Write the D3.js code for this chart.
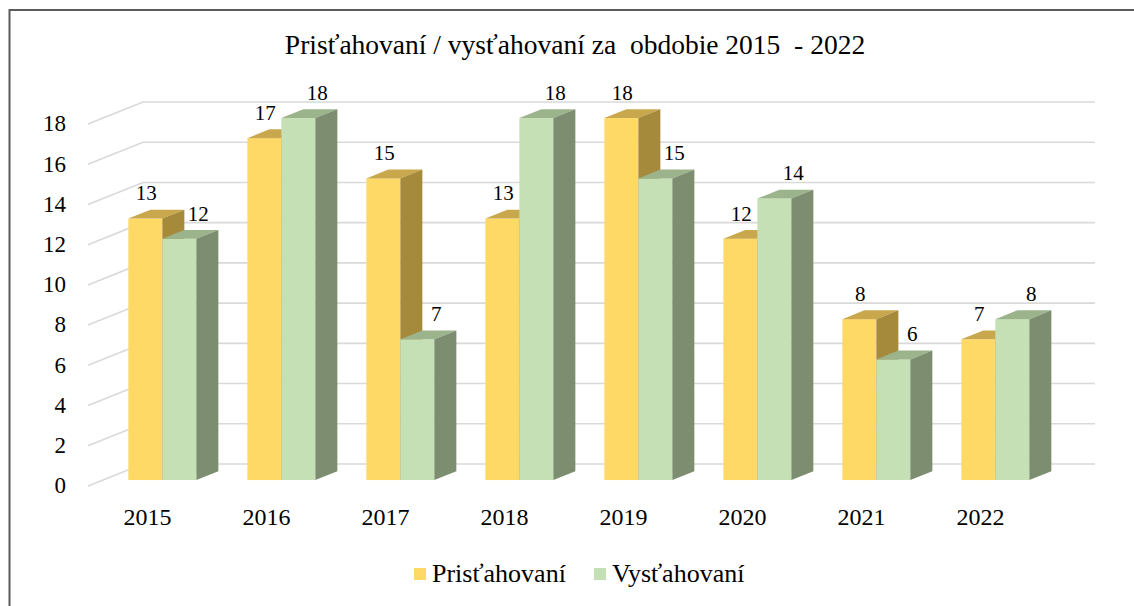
<!DOCTYPE html>
<html>
<head>
<meta charset="utf-8">
<script src="https://cdn.jsdelivr.net/npm/d3@7"></script>
<style>
  body { margin: 0; background: #fff; }
  svg { display: block; }
  svg text { font-family: "Liberation Serif", "Times New Roman", serif; }
</style>
</head>
<body>
<div id="chart"></div>
<script>
const years = ["2015", "2016", "2017", "2018", "2019", "2020", "2021", "2022"];
const pristahovani = [13, 17, 15, 13, 18, 12, 8, 7];
const vystahovani = [12, 18, 7, 18, 15, 14, 6, 8];
const seriesNames = ["Prisťahovaní", "Vysťahovaní"];
const yTicks = [0, 2, 4, 6, 8, 10, 12, 14, 16, 18];

const W = 1134, H = 606;
const svg = d3.select("#chart").append("svg")
  .attr("width", W)
  .attr("height", H);

// depth of the 3D box (back wall offset) and where the bars sit in it
const depth = { dx: 55, dy: -22 };
const barFront = 0.27, barDepth = 0.4;

const x = d3.scaleBand().domain(years).range([88, 1040]);
const sub = d3.scaleBand().domain([0, 1]).range([0, x.bandwidth()]).paddingOuter(0.75);
const y = d3.scaleLinear().domain([0, 18]).range([486, 124]);

const colors = [
  { front: "#FFD966", top: "#C8A74D", side: "#A68A3B" },
  { front: "#C5E0B4", top: "#9CB48C", side: "#7D8D70" }
];

// outer frame
svg.append("path")
  .attr("d", `M9.5,${H} V10 H${W}`)
  .attr("fill", "none")
  .attr("stroke", "#5b5b5b")
  .attr("stroke-width", 2);

// gridlines: left wall diagonal + back wall horizontal
svg.selectAll(".grid")
  .data(yTicks)
  .enter()
  .append("path")
  .attr("class", "grid")
  .attr("d", (t) => `M${x.range()[0]},${y(t)} L${x.range()[0] + depth.dx},${y(t) + depth.dy} H${x.range()[1] + depth.dx}`)
  .attr("fill", "none")
  .attr("stroke", "#d9d9d9")
  .attr("stroke-width", 1.6);

// y axis labels
svg.selectAll(".ytick")
  .data(yTicks)
  .enter()
  .append("text")
  .attr("x", 66)
  .attr("y", (t) => y(t) + 2)
  .attr("text-anchor", "end")
  .attr("dominant-baseline", "middle")
  .attr("font-size", 23)
  .attr("fill", "#000")
  .text((t) => t);

// category labels
svg.selectAll(".xtick")
  .data(years)
  .enter()
  .append("text")
  .attr("x", (d) => x(d) + x.bandwidth() / 2)
  .attr("y", 519)
  .attr("text-anchor", "middle")
  .attr("dominant-baseline", "middle")
  .attr("font-size", 24)
  .attr("fill", "#000")
  .text((d) => d);

// bars, drawn left to right so that nearer faces cover hidden ones
const bars = [];
years.forEach((yr, j) => {
  [pristahovani, vystahovani].forEach((vals, i) => {
    bars.push({ year: yr, series: i, value: vals[j] });
  });
});

const ox = barFront * depth.dx, oy = barFront * depth.dy;
const bx = barDepth * depth.dx, by = barDepth * depth.dy;

const g = svg.selectAll(".bar")
  .data(bars)
  .enter()
  .append("g")
  .attr("class", "bar");

g.each(function (d) {
  const x0 = x(d.year) + sub(d.series) + ox;
  const x1 = x0 + sub.bandwidth();
  const yb = y(0) + oy;
  const yt = y(d.value) + oy;
  const c = colors[d.series];
  const sel = d3.select(this);
  sel.append("rect")
    .attr("x", x0).attr("y", yt)
    .attr("width", x1 - x0).attr("height", yb - yt)
    .attr("fill", c.front);
  sel.append("polygon")
    .attr("points", [[x0, yt], [x1, yt], [x1 + bx, yt + by], [x0 + bx, yt + by]].join(" "))
    .attr("fill", c.top);
  sel.append("polygon")
    .attr("points", [[x1, yt], [x1 + bx, yt + by], [x1 + bx, yb + by], [x1, yb]].join(" "))
    .attr("fill", c.side);
});

// value labels
svg.selectAll(".vlabel")
  .data(bars)
  .enter()
  .append("text")
  .attr("x", (d) => x(d.year) + sub(d.series) + ox + sub.bandwidth() / 2 + (d.series === 0 ? 1 : 19))
  .attr("y", (d) => y(d.value) + oy - 23)
  .attr("text-anchor", "middle")
  .attr("dominant-baseline", "middle")
  .attr("font-size", 21)
  .attr("fill", "#000")
  .text((d) => d.value);

// title
svg.append("text")
  .attr("x", 575)
  .attr("y", 48)
  .attr("text-anchor", "middle")
  .attr("dominant-baseline", "middle")
  .attr("font-size", 27.5)
  .attr("fill", "#000")
  .style("white-space", "pre")
  .text("Prisťahovaní / vysťahovaní za  obdobie 2015  - 2022");

// legend
const legendX = [414, 594];
const legend = svg.selectAll(".legend")
  .data(seriesNames)
  .enter()
  .append("g")
  .attr("class", "legend");
legend.append("rect")
  .attr("x", (d, i) => legendX[i])
  .attr("y", 568)
  .attr("width", 12)
  .attr("height", 12)
  .attr("fill", (d, i) => colors[i].front);
legend.append("text")
  .attr("x", (d, i) => legendX[i] + 18)
  .attr("y", 582)
  .attr("font-size", 26)
  .attr("fill", "#000")
  .text((d) => d);
</script>
</body>
</html>
